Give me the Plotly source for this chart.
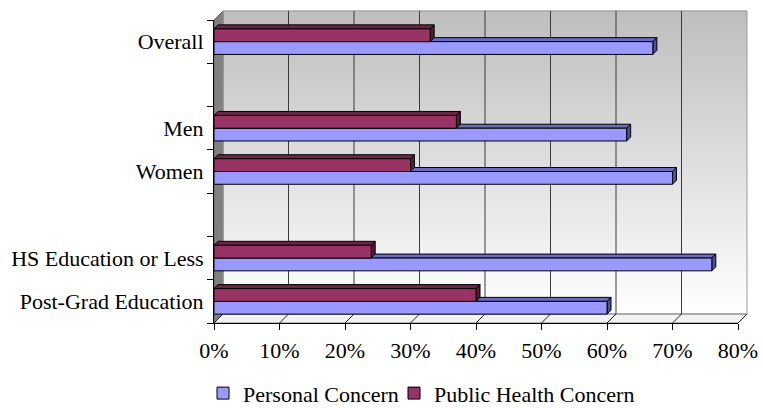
import plotly.graph_objects as go

# ---- data -------------------------------------------------------------
rows = ["Overall", "", "Men", "Women", "", "HS Education or Less", "Post-Grad Education"]
personal = [67, None, 63, 70, None, 76, 60]
public_health = [33, None, 37, 30, None, 24, 40]
x_ticks = [0, 10, 20, 30, 40, 50, 60, 70, 80]
x_labels = ["0%", "10%", "20%", "30%", "40%", "50%", "60%", "70%", "80%"]
series_names = ["Personal Concern", "Public Health Concern"]

# ---- styling ----------------------------------------------------------
FONT = "Liberation Serif, Times New Roman, serif"
FS = 22
front_colors = ["#9999FF", "#993366"]
top_colors = ["#6B6BC0", "#6E2448"]
side_colors = ["#4F4F99", "#521B36"]

W, H = 763, 408
ML, MR, MT, MB = 214, 25, 20, 85
PW, PH = W - ML - MR, H - MT - MB
WALL_DEPTH = 9      # px offset of back wall
BAR_DEPTH = 4       # px depth of each bar
BARGAP = 0.41

x_max = x_ticks[-1]
n_rows = len(rows)
ypos = [n_rows - 1 - i for i in range(n_rows)]

# paper offsets for wall depth
pdx = WALL_DEPTH / PW
pdy = WALL_DEPTH / PH

shapes = []

# back wall vertical gradient (dark gray at top to white at bottom)
n_strips = 101
top_rgb = (190, 190, 190)
bot_rgb = (255, 255, 255)
for k in range(n_strips):
    f0 = k / n_strips
    f1 = (k + 1) / n_strips
    c = tuple(round(b + (t - b) * (f0 + f1) / 2) for t, b in zip(top_rgb, bot_rgb))
    shapes.append(dict(type="rect", xref="paper", yref="paper", layer="below",
                       x0=pdx, x1=1 + pdx, y0=pdy + f0, y1=pdy + f1 + 0.002,
                       fillcolor="rgb(%d,%d,%d)" % c, line=dict(width=0)))

# left side wall
shapes.append(dict(type="path", xref="paper", yref="paper", layer="below",
                   path=f"M 0,0 L {pdx},{pdy} L {pdx},{1 + pdy} L 0,1 Z",
                   fillcolor="#808080", line=dict(color="#606060", width=1)))
# floor
shapes.append(dict(type="path", xref="paper", yref="paper", layer="below",
                   path=f"M 0,0 L 1,0 L {1 + pdx},{pdy} L {pdx},{pdy} Z",
                   fillcolor="#F2F2F2", line=dict(color="#808080", width=1)))
# back wall outline
shapes.append(dict(type="rect", xref="paper", yref="paper", layer="below",
                   x0=pdx, x1=1 + pdx, y0=pdy, y1=1 + pdy,
                   line=dict(color="#9A9A9A", width=1)))

# gridlines on back wall and floor diagonals
for t in x_ticks:
    px = t / x_max
    if 0 < t < x_max:
        shapes.append(dict(type="line", xref="paper", yref="paper", layer="below",
                           x0=px + pdx, x1=px + pdx, y0=pdy, y1=1 + pdy,
                           line=dict(color="#3A3A3A", width=1)))
    shapes.append(dict(type="line", xref="paper", yref="paper", layer="below",
                       x0=px, x1=px + pdx, y0=0, y1=pdy,
                       line=dict(color="#202020", width=1)))

# 3-D faces of the bars (top and right side), built from the data values
bar_w = (1 - BARGAP) / 2
bdx = BAR_DEPTH * x_max / PW
bdy = BAR_DEPTH * n_rows / PH
for s, vals in enumerate([personal, public_health]):
    for y, v in zip(ypos, vals):
        if v is None:
            continue
        y0 = y - bar_w + s * bar_w
        y1 = y0 + bar_w
        shapes.append(dict(type="path", xref="x", yref="y", layer="below",
                           path=f"M 0,{y1} L {v},{y1} L {v + bdx},{y1 + bdy} L {bdx},{y1 + bdy} Z",
                           fillcolor=top_colors[s], line=dict(color="black", width=1)))
        shapes.append(dict(type="path", xref="x", yref="y", layer="below",
                           path=f"M {v},{y0} L {v},{y1} L {v + bdx},{y1 + bdy} L {v + bdx},{y0 + bdy} Z",
                           fillcolor=side_colors[s], line=dict(color="black", width=1)))

fig = go.Figure()
legend_ids = ["legend", "legend2"]
for s, (name, vals) in enumerate(zip(series_names, [personal, public_health])):
    fig.add_trace(go.Bar(
        y=ypos, x=vals, name=name, orientation="h", legend=legend_ids[s],
        marker=dict(color=front_colors[s], line=dict(color="black", width=1)),
        hoverinfo="skip",
    ))

# one legend box per series so the two entries sit close together
legend_left_px = [203, 394]
legend_common = dict(orientation="h", yanchor="middle", y=-0.232, xanchor="left",
                     font=dict(family=FONT, size=FS), itemwidth=30,
                     bgcolor="rgba(0,0,0,0)", borderwidth=0)

fig.update_layout(
    width=W, height=H,
    margin=dict(l=ML, r=MR, t=MT, b=MB, pad=0, autoexpand=False),
    paper_bgcolor="white", plot_bgcolor="rgba(0,0,0,0)",
    barmode="group", bargap=BARGAP, bargroupgap=0,
    font=dict(family=FONT, size=FS, color="black"),
    shapes=shapes,
    showlegend=True,
    legend=dict(x=(legend_left_px[0] - ML) / PW, **legend_common),
    legend2=dict(x=(legend_left_px[1] - ML) / PW, **legend_common),
)
fig.update_xaxes(
    range=[0, x_max], tickvals=x_ticks, ticktext=x_labels,
    showgrid=False, zeroline=False, showline=True, linecolor="black", linewidth=1,
    ticks="outside", ticklen=6, tickcolor="black", ticklabelstandoff=2,
    tickfont=dict(family=FONT, size=FS), automargin=False,
)
fig.update_yaxes(
    range=[-0.5, n_rows - 0.5],
    tickvals=[y for y, r in zip(ypos, rows) if r],
    ticktext=[r for r in rows if r],
    showgrid=False, zeroline=False, showline=True, linecolor="black", linewidth=1,
    ticks="outside", ticklen=5, tickcolor="rgba(0,0,0,0)",
    minor=dict(tickvals=[k - 0.5 for k in range(n_rows + 1)], ticks="outside",
               ticklen=6, tickcolor="black", showgrid=False),
    tickfont=dict(family=FONT, size=FS), automargin=False,
)

fig.write_html("out.html")
